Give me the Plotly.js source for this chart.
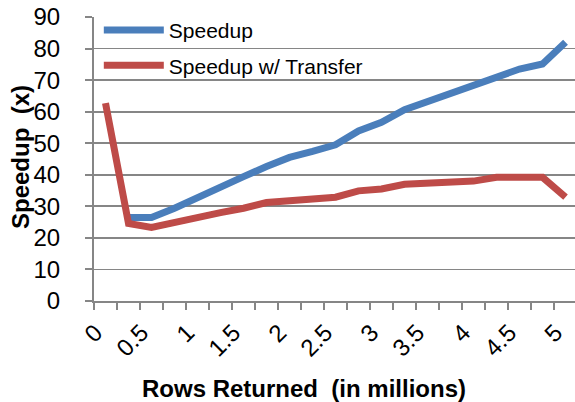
<!DOCTYPE html>
<html>
<head>
<meta charset="utf-8">
<script src="https://cdn.plot.ly/plotly-3.0.1.min.js"></script>
<style>html,body{margin:0;padding:0;background:#fff;}#chart{width:575px;height:402px;}</style>
</head>
<body>
<div id="chart"></div>
<script>
// Rows returned (millions)
const rowsReturned = [0, 0.25, 0.5, 0.75, 1, 1.25, 1.5, 1.75, 2, 2.25, 2.5, 2.75, 3, 3.25, 3.5, 3.75, 4, 4.25, 4.5, 4.75, 5];
const speedup = [null, 26.5, 26.5, 29.4, 32.9, 36.3, 39.4, 42.6, 45.5, 47.4, 49.5, 53.9, 56.6, 60.6, 63.2, 65.7, 68.3, 71.4, 73.5, 75.1, 82.0];
const speedupTransfer = [62.7, 24.6, 23.3, 24.9, 26.8, 28.0, 29.4, 31.2, 31.8, 32.4, 32.9, 34.9, 35.5, 37.0, 37.4, 38.0, 38.0, 39.2, 39.2, 39.2, 32.9];
const tickValues = [0, 0.5, 1, 1.5, 2, 2.5, 3, 3.5, 4, 4.5, 5];
const tickLabels = ['0', '0.5', '1', '1.5', '2', '2.5', '3', '3.5', '4', '4.5', '5'];
const seriesNames = ['Speedup', 'Speedup w/ Transfer'];
const xTitle = 'Rows Returned\u00a0 (in millions)';
const yTitle = 'Speedup\u00a0 (x)';

const FONT = 'Arial, "Liberation Sans", sans-serif';
const traces = [
  {x: rowsReturned, y: speedup, name: seriesNames[0], type: 'scatter', mode: 'lines',
   line: {color: '#4A7EBB', width: 7, shape: 'linear'}, legendgroup: 'a', connectgaps: false},
  {x: rowsReturned, y: speedupTransfer, name: seriesNames[1], type: 'scatter', mode: 'lines',
   line: {color: '#BE4B48', width: 7, shape: 'linear'}, legendgroup: 'b'}
];
const layout = {
  width: 575, height: 402,
  margin: {l: 94, r: 0, t: 17, b: 101, pad: 0},
  paper_bgcolor: '#fff', plot_bgcolor: '#fff',
  font: {family: FONT, color: '#000', size: 21},
  showlegend: true,
  legend: {x: 0.01, y: 1.025, xanchor: 'left', yanchor: 'top', bgcolor: 'rgba(0,0,0,0)',
           font: {family: FONT, size: 21, color: '#000'}, tracegroupgap: 5, itemwidth: 60},
  xaxis: {
    type: 'linear', range: [-0.125, 5.103], tickmode: 'array', tickvals: tickValues, ticktext: tickLabels,
    tickangle: -45, ticks: '', showgrid: false, zeroline: false, ticklabeloverflow: 'allow',
    ticklabelshift: -10, ticklabelstandoff: 6,
    showline: true, linecolor: '#868686', linewidth: 2,
    tickfont: {family: FONT, size: 24, color: '#000'},
    minor: {ticks: 'outside', tick0: -0.125, dtick: 0.25, ticklen: 7, tickwidth: 2, tickcolor: '#868686', showgrid: false}
  },
  yaxis: {
    range: [0, 90], dtick: 10, tick0: 0, ticks: 'outside', ticklen: 7, tickwidth: 2, tickcolor: '#868686',
    showgrid: true, gridcolor: '#868686', gridwidth: 1.8, zeroline: false,
    showline: true, linecolor: '#868686', linewidth: 2,
    tickfont: {family: FONT, size: 24, color: '#000'}, ticklabelstandoff: 20
  },
  annotations: [
    {text: '<b>' + xTitle + '</b>', xref: 'paper', yref: 'paper', x: (304 - 94) / 481, y: 0, yshift: -87,
     xanchor: 'center', yanchor: 'middle', showarrow: false, font: {family: FONT, size: 24, color: '#000'}},
    {text: '<b>' + yTitle + '</b>', xref: 'paper', yref: 'paper', x: 0, xshift: -74, y: 0.5, yshift: 2,
     textangle: -90, xanchor: 'center', yanchor: 'middle', showarrow: false, font: {family: FONT, size: 24, color: '#000'}}
  ]
};
Plotly.newPlot('chart', traces, layout, {staticPlot: true, displayModeBar: false});
</script>
</body>
</html>
